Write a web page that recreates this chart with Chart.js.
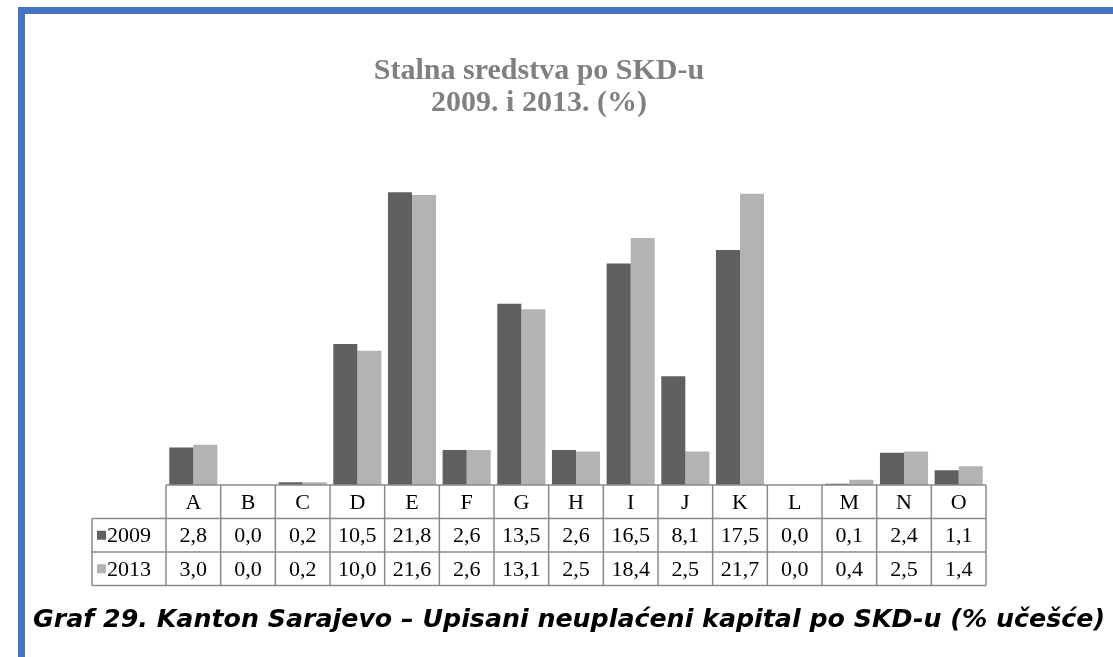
<!DOCTYPE html>
<html>
<head>
<meta charset="utf-8">
<script src="https://cdn.jsdelivr.net/npm/chart.js@4/dist/chart.umd.min.js"></script>
<style>
    body { margin: 0; background: #fff; }
    #wrap { position: relative; width: 1113px; height: 657px; overflow: hidden; }
    #frame { position: absolute; left: 18px; top: 7px; right: 0; bottom: 0;
             border-left: 7px solid #4472C4; border-top: 7px solid #4472C4; }
    #chart { position: absolute; left: 0; top: 0; }
    #caption { position: absolute; left: 33px; top: 604px; white-space: nowrap;
               font-family: 'DejaVu Sans', sans-serif; font-weight: bold; font-style: italic;
               font-size: 25.3px; color: #000; }
</style>
</head>
<body>
<div id="wrap">
    <div id="frame"></div>
    <canvas id="chart" width="1113" height="657"></canvas>
    <div id="caption">Graf 29. Kanton Sarajevo – Upisani neuplaćeni kapital po SKD-u (% učešće)</div>
</div>
<script>
// Données du graphique
const categories = ['A', 'B', 'C', 'D', 'E', 'F', 'G', 'H', 'I', 'J', 'K', 'L', 'M', 'N', 'O'];
const seriesLabels = ['2009', '2013'];
const values2009 = [2.8, 0.0, 0.2, 10.5, 21.8, 2.6, 13.5, 2.6, 16.5, 8.1, 17.5, 0.0, 0.1, 2.4, 1.1];
const values2013 = [3.0, 0.0, 0.2, 10.0, 21.6, 2.6, 13.1, 2.5, 18.4, 2.5, 21.7, 0.0, 0.4, 2.5, 1.4];
const titleLines = ['Stalna sredstva po SKD-u', '2009. i 2013. (%)'];

const colors = ['#606060', '#b3b3b3'];

// Tableau de données sous le graphique (comme dans Excel)
const dataTable = {
    id: 'dataTable',
    afterDraw(chart) {
        const { ctx, chartArea, scales: { x } } = chart;
        const n = categories.length;
        const colW = x.width / n;
        const top = chartArea.bottom;
        const rowH = 33.5;
        const labelLeft = 92;
        const left = chartArea.left;
        const right = chartArea.right;
        const rows = [values2009, values2013];

        ctx.save();
        ctx.strokeStyle = '#8a8a8a';
        ctx.lineWidth = 1.5;

        // ligne de l'axe
        ctx.beginPath();
        ctx.moveTo(left, top);
        ctx.lineTo(right, top);
        // lignes horizontales
        for (let r = 1; r <= 3; r++) {
            const y = top + r * rowH;
            ctx.moveTo(labelLeft, y);
            ctx.lineTo(right, y);
        }
        // verticales
        for (let i = 0; i <= n; i++) {
            const xx = left + i * colW;
            ctx.moveTo(xx, top);
            ctx.lineTo(xx, top + 3 * rowH);
        }
        ctx.moveTo(labelLeft, top + rowH);
        ctx.lineTo(labelLeft, top + 3 * rowH);
        ctx.stroke();

        ctx.fillStyle = '#000';
        ctx.font = '22px "Liberation Serif", serif';
        ctx.textAlign = 'center';
        ctx.textBaseline = 'middle';
        categories.forEach((c, i) => {
            const cx = x.getPixelForValue(i);
            ctx.fillText(c, cx, top + rowH / 2 + 1);
            rows.forEach((vals, r) => {
                ctx.fillText(vals[i].toFixed(1).replace('.', ','), cx, top + (r + 1.5) * rowH + 1);
            });
        });

        // libellés des séries avec carré de légende
        seriesLabels.forEach((lab, r) => {
            const cy = top + (r + 1.5) * rowH;
            ctx.fillStyle = colors[r];
            ctx.fillRect(97, cy - 4.5, 9, 9);
            ctx.fillStyle = '#000';
            ctx.textAlign = 'left';
            ctx.fillText(lab, 107, cy + 1);
        });
        ctx.restore();
    }
};

document.addEventListener('DOMContentLoaded', function () {
    const ctx = document.getElementById('chart');
    new Chart(ctx.getContext('2d'), {
        type: 'bar',
        data: {
            labels: categories,
            datasets: [{
                label: seriesLabels[0],
                data: values2009,
                backgroundColor: colors[0],
                borderWidth: 0
            }, {
                label: seriesLabels[1],
                data: values2013,
                backgroundColor: colors[1],
                borderWidth: 0
            }]
        },
        options: {
            responsive: false,
            animation: false,
            categoryPercentage: 0.88,
            barPercentage: 1,
            layout: {
                padding: { left: 92, right: 127, top: 0, bottom: 172 }
            },
            scales: {
                x: { display: false },
                y: {
                    min: 0,
                    max: 25,
                    grid: { display: false },
                    border: { display: false },
                    ticks: { display: false },
                    afterFit: function (scale) { scale.width = 74; }
                }
            },
            plugins: {
                legend: { display: false },
                tooltip: { enabled: false },
                title: {
                    display: true,
                    text: titleLines,
                    color: '#808080',
                    font: {
                        family: '"Liberation Serif", serif',
                        size: 30,
                        weight: 'bold',
                        lineHeight: 1.04
                    },
                    padding: { top: 56, bottom: 31 }
                }
            }
        },
        plugins: [dataTable]
    });
});
</script>
</body>
</html>
